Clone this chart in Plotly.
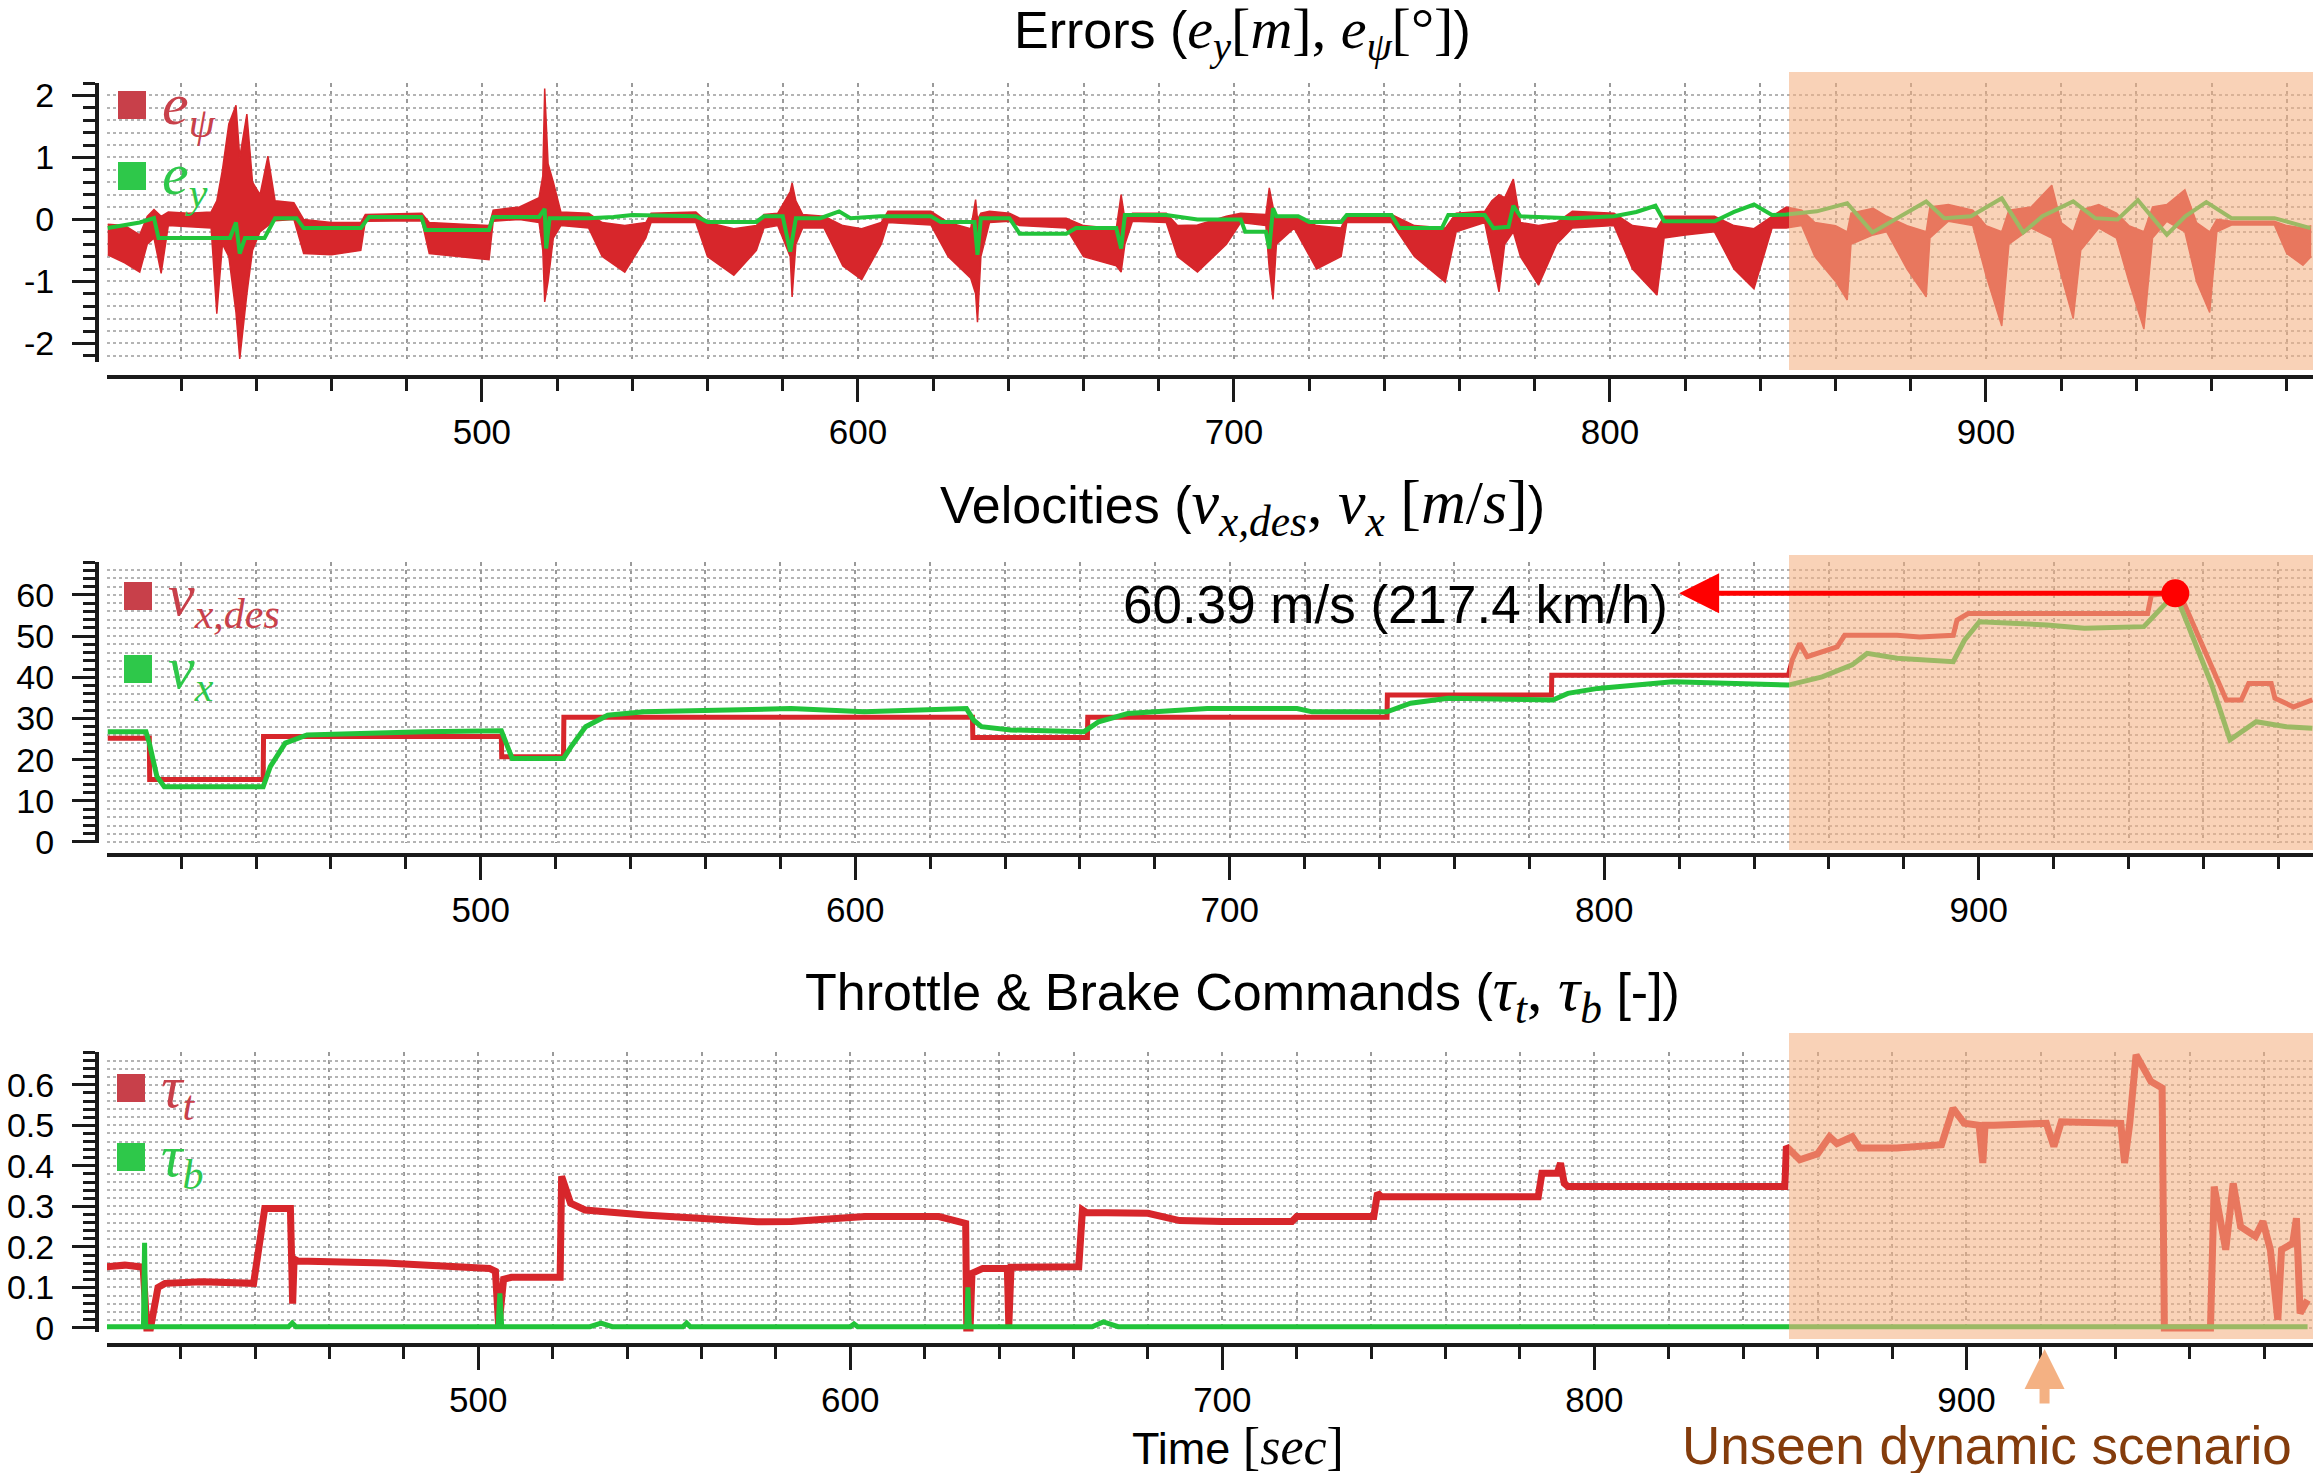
import plotly.graph_objects as go

# ---------------- errors panel ----------------
t_psi = [400.5, 405.0, 409.0, 411.0, 412.8, 414.7, 416.6, 422.0, 428.0, 429.5,
         431.0, 432.7, 434.6, 435.6, 437.5, 439.0, 441.0, 443.1, 445.0, 450.0,
         452.6, 460.0, 467.8, 469.0, 484.0, 486.0, 495.0, 501.9, 503.0, 510.0,
         515.2, 516.2, 516.7, 517.6, 519.0, 521.0, 528.4, 532.0, 538.0, 543.6,
         545.0, 556.9, 560.0, 567.0, 573.0, 575.0, 578.7, 582.0, 582.5, 583.5,
         585.3, 591.0, 596.0, 601.0, 606.2, 608.0, 619.4, 624.0, 630.0, 631.3,
         631.8, 632.7, 635.0, 640.3, 643.0, 655.4, 660.0, 668.7, 670.0, 671.0,
         673.0, 682.0, 685.0, 690.3, 698.0, 701.8, 708.5, 709.4, 710.4, 711.3,
         716.0, 722.0, 728.5, 730.0, 741.9, 748.0, 756.2, 759.1, 766.7, 768.6,
         770.5, 772.0, 774.3, 776.2, 781.0, 785.8, 790.0, 801.1, 806.0, 812.5,
         814.4, 820.0, 827.8, 833.0, 838.3, 843.1, 846.9, 851.0, 854.5, 860.0,
         863.1, 864.1, 870.0, 873.6, 879.0, 884.1, 885.1, 890.0, 896.5, 900.0,
         904.2, 906.1, 912.0, 917.5, 920.0, 923.2, 925.2, 930.0, 934.7, 938.0,
         942.0, 944.3, 948.1, 952.9, 956.0, 959.5, 961.4, 965.3, 976.7, 980.0,
         984.3, 986.5]
psi_hi = [-0.08, -0.10, -0.25, 0.05, 0.16, 0.05, 0.12, 0.10, 0.12, 0.30,
          0.80, 1.54, 1.84, 1.00, 1.70, 0.60, 0.40, 1.02, 0.30, 0.27,
          0.00, -0.05, -0.05, 0.08, 0.10, -0.05, -0.08, -0.10, 0.15, 0.20,
          0.35, 0.70, 2.11, 0.90, 0.60, 0.12, 0.10, -0.05, -0.10, -0.05,
          0.10, 0.12, -0.05, -0.15, -0.10, 0.08, 0.10, 0.45, 0.59, 0.30,
          0.08, 0.05, -0.10, -0.15, -0.05, 0.13, 0.13, -0.05, -0.15, 0.32,
          0.00, 0.10, 0.13, 0.10, 0.02, 0.02, -0.10, -0.15, 0.40, 0.00,
          0.10, 0.10, -0.10, -0.09, 0.05, 0.10, 0.08, 0.51, 0.20, 0.05,
          0.05, -0.10, -0.14, 0.08, 0.08, -0.10, -0.14, 0.10, 0.13, 0.30,
          0.40, 0.35, 0.65, -0.05, -0.10, -0.05, 0.13, 0.10, -0.10, -0.15,
          0.05, 0.05, 0.05, -0.10, -0.15, 0.05, 0.20, 0.15, -0.05, -0.10,
          -0.20, 0.10, 0.18, 0.05, -0.10, -0.20, 0.20, 0.24, 0.15, -0.10,
          -0.20, 0.15, 0.20, 0.55, -0.05, -0.20, 0.15, 0.24, 0.10, -0.10,
          -0.20, 0.20, 0.24, 0.48, -0.05, -0.20, 0.00, -0.03, -0.03, -0.10,
          -0.14, -0.10]
psi_lo = [-0.57, -0.70, -0.85, -0.40, -0.30, -0.87, -0.10, -0.12, -0.14, -1.52,
          -0.40, -0.60, -1.50, -2.25, -1.20, -0.50, -0.20, -0.10, -0.02, 0.00,
          -0.55, -0.57, -0.50, -0.03, -0.02, -0.55, -0.60, -0.65, -0.03, 0.00,
          -0.05, -0.50, -1.33, -1.00, -0.30, -0.10, -0.14, -0.60, -0.85, -0.30,
          -0.05, -0.05, -0.60, -0.90, -0.50, -0.14, -0.10, -0.60, -1.25, -0.40,
          -0.14, -0.14, -0.75, -0.97, -0.40, -0.05, -0.09, -0.60, -0.95, -1.20,
          -1.66, -0.60, -0.05, -0.03, -0.10, -0.14, -0.60, -0.75, -0.85, -0.40,
          -0.03, -0.05, -0.60, -0.85, -0.40, -0.05, -0.10, -0.80, -1.29, -0.40,
          -0.14, -0.80, -0.60, -0.05, -0.05, -0.60, -1.01, -0.20, -0.05, -0.60,
          -1.17, -0.40, -0.20, -0.60, -1.06, -0.40, -0.14, -0.10, -0.80, -1.22,
          -0.30, -0.25, -0.20, -0.80, -1.12, -0.14, -0.14, -0.10, -0.60, -1.00,
          -1.30, -0.40, -0.25, -0.20, -0.80, -1.25, -0.30, -0.03, -0.10, -0.90,
          -1.72, -0.40, -0.14, -0.30, -0.90, -1.60, -0.50, -0.14, -0.30, -1.00,
          -1.77, -0.30, -0.03, -0.20, -1.00, -1.50, -0.20, -0.09, -0.09, -0.55,
          -0.74, -0.60]

t_ey = [400.5, 405.0, 409.0, 412.8, 414.0, 428.0, 433.0, 434.6, 435.6, 437.0,
        442.2, 445.0, 450.7, 452.6, 467.8, 470.0, 483.9, 485.0, 501.9, 503.0,
        515.2, 516.7, 517.1, 518.0, 528.4, 535.0, 540.0, 556.9, 560.0, 573.0,
        575.0, 580.0, 582.0, 583.5, 590.0, 595.0, 598.0, 606.0, 619.4, 622.0,
        631.0, 631.8, 632.7, 640.3, 643.0, 655.4, 658.0, 668.7, 670.0, 671.0,
        682.0, 690.3, 701.8, 703.0, 708.5, 709.4, 710.4, 711.3, 717.1, 720.0,
        728.5, 730.0, 741.9, 744.0, 755.3, 757.0, 766.7, 769.0, 773.0, 774.3,
        776.2, 790.0, 801.1, 807.0, 812.1, 814.4, 827.8, 833.0, 838.3, 843.1,
        846.9, 855.0, 863.1, 869.8, 877.0, 884.1, 888.9, 896.0, 904.2, 909.9,
        915.0, 923.2, 929.0, 935.0, 940.4, 948.1, 953.0, 958.6, 965.3, 976.7,
        986.3]
e_y = [-0.14, -0.10, -0.05, 0.02, -0.30, -0.30, -0.30, -0.05, -0.55, -0.30,
       -0.30, 0.02, 0.02, -0.14, -0.14, 0.04, 0.04, -0.17, -0.17, 0.04,
       0.04, 0.17, -0.47, 0.02, 0.02, 0.04, 0.07, 0.05, -0.04, -0.04,
       0.05, 0.05, -0.52, 0.02, 0.02, 0.13, 0.02, 0.05, 0.05, -0.04,
       -0.04, -0.57, 0.02, 0.02, -0.23, -0.23, -0.14, -0.14, -0.47, 0.07,
       0.07, 0.00, 0.00, -0.20, -0.20, -0.47, 0.18, 0.05, 0.05, -0.04,
       -0.04, 0.07, 0.07, -0.14, -0.14, 0.07, 0.07, -0.14, -0.12, 0.22,
       0.05, 0.02, 0.05, 0.12, 0.22, -0.03, -0.03, 0.12, 0.24, 0.07,
       0.08, 0.13, 0.26, -0.21, 0.05, 0.29, 0.02, 0.05, 0.34, -0.21,
       0.05, 0.29, 0.02, 0.00, 0.31, -0.25, 0.05, 0.28, 0.02, 0.02,
       -0.14]

# ---------------- velocities panel ----------------
t_vdes = [400.4, 411.5, 411.6, 441.9, 442.0, 505.5, 505.6, 522.1, 522.2, 631.3,
          631.4, 662.0, 662.1, 742.0, 742.1, 785.9, 786.0, 849.2, 850.2, 852.2,
          854.2, 862.2, 864.2, 878.2, 884.2, 893.2, 894.2, 897.2, 945.1, 946.1,
          952.1, 954.1, 966.1, 970.1, 972.1, 978.1, 979.1, 984.1, 989.1]
v_des = [25.2, 25.2, 15.2, 15.2, 25.6, 25.6, 20.7, 20.7, 30.3, 30.3,
         25.4, 25.4, 30.3, 30.3, 35.7, 35.7, 40.5, 40.5, 44.2, 48.2,
         45.0, 47.4, 50.2, 50.2, 49.8, 50.2, 53.9, 55.5, 55.5, 60.0,
         60.39, 59.5, 34.5, 34.5, 38.5, 38.5, 34.9, 32.8, 34.5]

t_vx = [400.4, 410.6, 411.5, 413.5, 415.5, 441.9, 443.8, 447.8, 453.6, 465.4,
        484.9, 505.5, 508.4, 522.1, 524.1, 528.0, 533.9, 543.6, 563.2, 582.8,
        602.4, 629.7, 631.7, 633.7, 641.5, 661.1, 665.0, 672.8, 680.0, 694.0,
        718.0, 722.0, 742.0, 748.3, 758.3, 782.3, 786.3, 790.3, 798.3, 818.3,
        838.2, 849.2, 858.2, 866.2, 870.2, 878.2, 893.2, 896.2, 900.2, 918.2,
        928.2, 944.1, 952.5, 962.1, 967.1, 974.1, 982.1, 989.1]
v_x = [26.8, 26.8, 24.0, 16.0, 13.4, 13.4, 18.3, 24.0, 26.0, 26.4,
       26.8, 27.0, 20.3, 20.3, 23.1, 28.0, 30.8, 31.6, 32.0, 32.4,
       31.6, 32.4, 29.5, 28.0, 27.2, 26.8, 29.2, 31.2, 31.6, 32.4,
       32.4, 31.6, 31.6, 33.7, 34.9, 34.5, 34.5, 36.1, 37.3, 38.9,
       38.5, 38.1, 40.1, 43.0, 45.8, 44.6, 43.8, 49.0, 53.5, 52.7,
       51.9, 52.3, 60.39, 38.5, 24.8, 29.2, 28.0, 27.6]

t_peak = 952.5
v_peak = 60.39
t_arrow_end = 820
peak_label = "60.39 m/s (217.4 km/h)"

# ---------------- throttle / brake panel ----------------
t_thr = [399.0, 405.0, 409.9, 410.9, 411.9, 413.9, 415.8, 425.7, 439.6, 441.6,
         442.6, 449.5, 450.1, 450.5, 451.5, 475.0, 503.0, 504.6, 505.5, 506.8,
         508.9, 522.0, 522.4, 524.8, 528.7, 544.6, 564.4, 575.0, 584.2, 604.0,
         623.8, 629.7, 631.0, 631.3, 632.2, 632.7, 635.6, 642.2, 642.6, 643.2,
         661.4, 662.4, 663.4, 680.0, 688.5, 700.0, 718.7, 720.0, 740.7, 741.7,
         742.7, 784.9, 785.9, 790.0, 790.9, 791.9, 792.9, 851.2, 851.6, 855.2,
         860.0, 863.2, 865.2, 869.3, 871.3, 881.3, 893.3, 896.4, 899.4, 903.4,
         904.4, 905.0, 907.4, 921.5, 923.5, 925.5, 941.5, 942.5, 943.9, 945.6,
         949.6, 952.6, 953.2, 965.6, 966.0, 966.6, 969.7, 971.7, 973.7, 977.7,
         979.7, 981.7, 983.7, 984.7, 987.7, 988.7, 989.7, 991.7]
thr = [0.150, 0.155, 0.150, 0.000, 0.000, 0.100, 0.110, 0.114, 0.110, 0.250,
       0.295, 0.295, 0.060, 0.170, 0.165, 0.160, 0.147, 0.140, 0.000, 0.120,
       0.125, 0.125, 0.374, 0.308, 0.291, 0.279, 0.267, 0.262, 0.263, 0.275,
       0.275, 0.258, 0.258, 0.000, 0.000, 0.135, 0.147, 0.147, 0.005, 0.150,
       0.151, 0.291, 0.285, 0.283, 0.265, 0.263, 0.263, 0.275, 0.275, 0.333,
       0.324, 0.324, 0.382, 0.382, 0.407, 0.357, 0.349, 0.349, 0.448, 0.415,
       0.430, 0.472, 0.455, 0.472, 0.444, 0.444, 0.452, 0.542, 0.505, 0.500,
       0.407, 0.500, 0.500, 0.505, 0.448, 0.509, 0.505, 0.407, 0.505, 0.674,
       0.608, 0.592, 0.000, 0.000, 0.193, 0.349, 0.193, 0.357, 0.250, 0.226,
       0.263, 0.193, 0.020, 0.193, 0.209, 0.271, 0.036, 0.069]

t_brk = [399.0, 410.0, 410.3, 410.6, 449.0, 450.0, 451.0, 505.3, 505.8, 506.3,
         530.0, 533.0, 536.0, 555.0, 556.0, 557.0, 600.0, 601.0, 602.0, 631.3,
         631.6, 632.0, 665.0, 668.0, 672.0, 991.7]
brk = [0.003, 0.003, 0.210, 0.003, 0.003, 0.012, 0.003, 0.003, 0.085, 0.003,
       0.003, 0.012, 0.003, 0.003, 0.012, 0.003, 0.003, 0.010, 0.003, 0.003,
       0.100, 0.003, 0.003, 0.015, 0.003, 0.003]

unseen_arrow_t = 921

RED = "#d7262b"
GREEN = "#22c33a"
SANS = "Liberation Sans"
SERIF = "Liberation Serif"
AX = "#1a1a1a"

# page pixels -> paper fractions (the page body adds an 8px offset)
W, H, OFF = 2321, 1473, 8


def PX(x):
    return (x - OFF) / W


def PY(y):
    return 1 - (y - OFF) / H


fig = go.Figure()

# errors
fig.add_trace(go.Scatter(x=t_psi, y=psi_lo, mode="lines", line=dict(color=RED, width=1.5),
                         xaxis="x", yaxis="y"))
fig.add_trace(go.Scatter(x=t_psi, y=psi_hi, mode="lines", line=dict(color=RED, width=1.5),
                         fill="tonexty", fillcolor=RED, xaxis="x", yaxis="y"))
fig.add_trace(go.Scatter(x=t_ey, y=e_y, mode="lines", line=dict(color=GREEN, width=4),
                         xaxis="x", yaxis="y"))
# velocities
fig.add_trace(go.Scatter(x=t_vdes, y=v_des, mode="lines", line=dict(color=RED, width=5),
                         xaxis="x2", yaxis="y2"))
fig.add_trace(go.Scatter(x=t_vx, y=v_x, mode="lines", line=dict(color=GREEN, width=5),
                         xaxis="x2", yaxis="y2"))
# commands
fig.add_trace(go.Scatter(x=t_thr, y=thr, mode="lines", line=dict(color=RED, width=7),
                         xaxis="x3", yaxis="y3"))
fig.add_trace(go.Scatter(x=t_brk, y=brk, mode="lines", line=dict(color=GREEN, width=5),
                         xaxis="x3", yaxis="y3"))

XDOM = [PX(107), PX(2318)]
VGRID = dict(gridcolor="#9a9a9a", griddash="4px,4px", gridwidth=2)
HGRID = dict(gridcolor="#b4b4b4", griddash="dot", gridwidth=2)


def xax(rng, pos):
    return dict(domain=XDOM, range=rng, anchor="free", position=PY(pos),
                showline=True, linecolor=AX, linewidth=4, zeroline=False,
                ticks="outside", ticklen=23, tickwidth=3, tickcolor=AX,
                tick0=0, dtick=100, showgrid=True, **VGRID,
                minor=dict(dtick=20, ticks="outside", ticklen=12, tickwidth=3,
                           tickcolor=AX, showgrid=True, **VGRID),
                tickfont=dict(family=SANS, size=35, color="black"),
                ticklabelstandoff=0, automargin=False)


def yax(rng, top, bottom, dtick, mdtick, **kw):
    d = dict(domain=[PY(bottom), PY(top)], range=rng, anchor="free", position=PX(97),
             showline=True, linecolor=AX, linewidth=4, zeroline=False,
             ticks="outside", ticklen=23, tickwidth=3, tickcolor=AX,
             tick0=0, dtick=dtick, showgrid=True, **HGRID,
             minor=dict(dtick=mdtick, ticks="outside", ticklen=12, tickwidth=3,
                        tickcolor=AX, showgrid=True, **HGRID),
             tickfont=dict(family=SANS, size=34, color="black"),
             ticklabelstandoff=11, automargin=False)
    d.update(kw)
    return d


fig.update_layout(
    width=W, height=H,
    margin=dict(l=0, r=0, t=0, b=0, pad=0, autoexpand=False),
    paper_bgcolor="white", plot_bgcolor="white", showlegend=False,
    xaxis=xax([400.3, 988.3], 377),
    xaxis2=xax([400.2, 990.6], 855),
    xaxis3=xax([400.2, 994.5], 1345),
    yaxis=yax([-2.3, 2.2], 83, 362, 1, 0.2, tickmode="array",
              tickvals=[-2, -1, 0, 1, 2], ticktext=["-2", "-1", "0", "1", "2"]),
    yaxis2=yax([-0.25, 68], 562, 843, 10, 2),
    yaxis3=yax([-0.01, 0.681], 1052, 1332, 0.1, 0.02),
)

# unseen-scenario shading (above the traces)
for top, bottom in [(72, 370), (555, 850), (1033, 1339)]:
    fig.add_shape(type="rect", xref="paper", yref="paper", x0=PX(1789), x1=1.0,
                  y0=PY(bottom), y1=PY(top), fillcolor="#f4b183",
                  opacity=0.58, line_width=0, layer="above")

# peak marker
fig.add_shape(type="circle", xref="x2", yref="y2", xsizemode="pixel", ysizemode="pixel",
              xanchor=t_peak, yanchor=v_peak, x0=-14, x1=14, y0=-14, y1=14,
              fillcolor="#ff0000", line_width=0, layer="above")
fig.add_annotation(x=t_arrow_end, y=v_peak, ax=t_peak, ay=v_peak, xref="x2", yref="y2",
                   axref="x2", ayref="y2", text="", showarrow=True, arrowhead=2,
                   arrowsize=1.6, arrowwidth=5, arrowcolor="#ff0000", standoff=0)
fig.add_annotation(x=PX(1670), y=PY(604), xref="paper", yref="paper",
                   text=peak_label, showarrow=False, xanchor="right", yanchor="middle",
                   font=dict(family=SANS, size=53, color="black"))

# unseen scenario label + arrow
fig.add_annotation(x=unseen_arrow_t, y=PY(1349), xref="x3", yref="paper",
                   ax=0, ay=56, text="", showarrow=True, arrowhead=2, arrowsize=0.8,
                   arrowwidth=10, arrowcolor="#f4b183", standoff=0)
fig.add_annotation(x=PX(1987), y=PY(1445), xref="paper", yref="paper",
                   text="Unseen dynamic scenario", showarrow=False,
                   xanchor="center", yanchor="middle",
                   font=dict(family=SANS, size=53, color="#843c0c"))

# titles
def math(size):
    return "<span style='font-family:%s;font-size:%dpx'>" % (SERIF, size)


titles = [
    (33, "Errors (" + math(58) + "<i>e</i><sub><i>y</i></sub>[<i>m</i>], "
         "<i>e</i><sub><i>ψ</i></sub>[°]</span>)"),
    (506, "Velocities (" + math(62) + "<i>v</i><sub><i>x,des</i></sub>, "
          "<i>v</i><sub><i>x</i></sub> [<i>m</i>/<i>s</i>]</span>)"),
    (993, "Throttle &amp; Brake Commands (" + math(62) + "<i>τ</i><sub><i>t</i></sub>, "
          "<i>τ</i><sub><i>b</i></sub></span> [-])"),
]
for ypx, txt in titles:
    fig.add_annotation(x=PX(1242), y=PY(ypx), xref="paper", yref="paper",
                       text=txt, showarrow=False, xanchor="center", yanchor="middle",
                       font=dict(family=SANS, size=52, color="black"))

fig.add_annotation(x=PX(1238), y=PY(1446), xref="paper", yref="paper",
                   text="Time " + math(52) + "[<i>sec</i>]</span>", showarrow=False,
                   xanchor="center", yanchor="middle",
                   font=dict(family=SANS, size=45, color="black"))

# legends
LRED = "#c8404a"
LGREEN = "#2ec84a"
legends = [
    (118, 91, LRED, "<i>e</i><sub><i>ψ</i></sub>"),
    (118, 162, LGREEN, "<i>e</i><sub><i>y</i></sub>"),
    (124, 582, LRED, "<i>v</i><sub><i>x,des</i></sub>"),
    (124, 655, LGREEN, "<i>v</i><sub><i>x</i></sub>"),
    (117, 1074, LRED, "<i>τ</i><sub><i>t</i></sub>"),
    (117, 1143, LGREEN, "<i>τ</i><sub><i>b</i></sub>"),
]
for lx, ly, col, txt in legends:
    fig.add_shape(type="rect", xref="paper", yref="paper", x0=PX(lx), x1=PX(lx + 28),
                  y0=PY(ly + 28), y1=PY(ly), fillcolor=col, line_width=0)
    fig.add_annotation(x=PX(lx + 42), y=PY(ly + 17), xref="paper", yref="paper",
                       text=txt, showarrow=False, xanchor="left", yanchor="middle",
                       font=dict(family=SERIF, size=60, color=col))

fig.write_html("out.html")
